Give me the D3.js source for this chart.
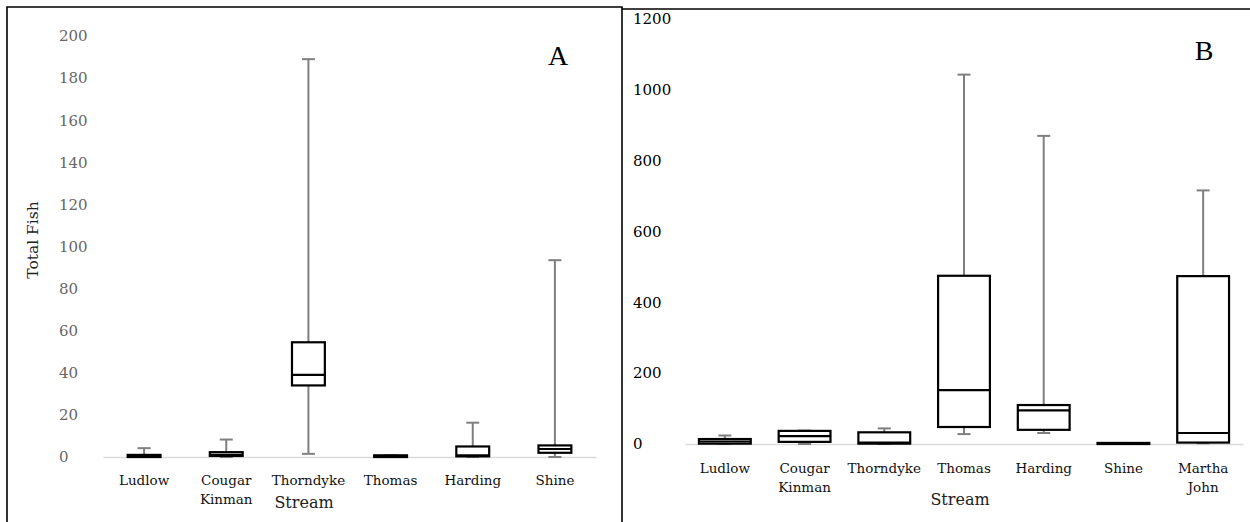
<!DOCTYPE html>
<html>
<head>
<meta charset="utf-8">
<script src="https://cdn.jsdelivr.net/npm/d3@7"></script>
<style>
  html, body { margin: 0; padding: 0; background: #fff; }
  svg { display: block; }
</style>
</head>
<body>
<svg id="chart" width="1250" height="522"></svg>
<script>
// ---- Panel A data ----
const categoriesA = ["Ludlow", "Cougar\nKinman", "Thorndyke", "Thomas", "Harding", "Shine"];
const minA = [0, 0, 1.5, 0, 0, 0];
const q1A  = [0, 0.5, 34, 0, 0.3, 2];
const medA = [0.5, 1, 39, 0.3, 0.8, 3.8];
const q3A  = [1, 2.3, 54.5, 0.8, 5, 5.5];
const maxA = [4.2, 8.3, 189, 0.8, 16.3, 93.5];
const ticksA = [0, 20, 40, 60, 80, 100, 120, 140, 160, 180, 200];

// ---- Panel B data ----
const categoriesB = ["Ludlow", "Cougar\nKinman", "Thorndyke", "Thomas", "Harding", "Shine", "Martha\nJohn"];
const minB = [0, 0, 0, 28, 31, 0, 2];
const q1B  = [1, 6, 1, 48, 40, 0, 4];
const medB = [7, 22, 4, 152, 95, 1, 31];
const q3B  = [14, 37, 33, 475, 110, 3, 474];
const maxB = [24, 38, 44, 1043, 870, 3, 716];
const ticksB = [0, 200, 400, 600, 800, 1000, 1200];

const svg = d3.select("#chart");
const FONT = "DejaVu Serif";

// Panel frames
svg.append("path")
  .attr("d", d3.line()([[7, 522], [7, 7], [622, 7], [622, 522]]))
  .attr("fill", "none").attr("stroke", "#000").attr("stroke-width", 1.6);
svg.append("line")
  .attr("x1", 622).attr("x2", 1250).attr("y1", 9).attr("y2", 9)
  .attr("stroke", "#000").attr("stroke-width", 1.6);

function panel(cfg) {
  const { cats, mins, q1s, meds, q3s, maxs, ticks, xRange, yRange, yMax,
          tickX, tickColor, boxRatio, labelOff, streamPos, letter, letterPos } = cfg;
  const x = d3.scaleBand().domain(cats).range(xRange).paddingInner(0).paddingOuter(0);
  const y = d3.scaleLinear().domain([0, yMax]).range(yRange);

  // y tick labels
  const ya = svg.append("g").attr("transform", `translate(${tickX},0)`)
    .call(d3.axisLeft(y).tickValues(ticks).tickSize(0).tickFormat(d3.format("d")));
  ya.select(".domain").remove();
  ya.selectAll("text")
    .attr("x", 0).attr("text-anchor", "start")
    .attr("font-family", FONT).attr("font-size", 15).attr("fill", tickColor);

  // x axis baseline & labels
  const xa = svg.append("g").attr("transform", `translate(0,${yRange[0]})`)
    .call(d3.axisBottom(x).tickSize(0).tickSizeOuter(0));
  xa.select(".domain").attr("stroke", "#d9d9d9").attr("stroke-width", 1.5);
  xa.selectAll("text").each(function(d) {
    const t = d3.select(this);
    t.text(null).attr("y", labelOff).attr("dy", 0)
      .attr("font-family", FONT).attr("font-size", 13.5).attr("fill", "#111");
    d.split("\n").forEach((s, i) => {
      t.append("tspan").attr("x", 0).attr("dy", i === 0 ? 0 : 19).text(s);
    });
  });

  const bw = x.bandwidth() * boxRatio;
  const capW = 13;
  const g = svg.append("g");
  cats.forEach((c, i) => {
    const cx = x(c) + x.bandwidth() / 2;
    // whisker
    g.append("line").attr("x1", cx).attr("x2", cx)
      .attr("y1", y(maxs[i])).attr("y2", y(mins[i]))
      .attr("stroke", "#7f7f7f").attr("stroke-width", 2);
    [maxs[i], mins[i]].forEach(v => {
      g.append("line").attr("x1", cx - capW / 2).attr("x2", cx + capW / 2)
        .attr("y1", y(v)).attr("y2", y(v))
        .attr("stroke", "#7f7f7f").attr("stroke-width", 2);
    });
    // box
    g.append("rect").attr("x", cx - bw / 2).attr("width", bw)
      .attr("y", y(q3s[i])).attr("height", Math.max(0.5, y(q1s[i]) - y(q3s[i])))
      .attr("fill", "#fff").attr("stroke", "#000").attr("stroke-width", 2.2);
    g.append("line").attr("x1", cx - bw / 2).attr("x2", cx + bw / 2)
      .attr("y1", y(meds[i])).attr("y2", y(meds[i]))
      .attr("stroke", "#000").attr("stroke-width", 2.2);
  });

  svg.append("text").attr("x", streamPos[0]).attr("y", streamPos[1])
    .attr("text-anchor", "middle").attr("font-family", FONT).attr("font-size", 16)
    .attr("fill", "#222").text("Stream");
  svg.append("text").attr("x", letterPos[0]).attr("y", letterPos[1])
    .attr("text-anchor", "middle").attr("font-family", "Liberation Serif").attr("font-size", 28)
    .attr("fill", "#000").text(letter);
}

panel({
  cats: categoriesA, mins: minA, q1s: q1A, meds: medA, q3s: q3A, maxs: maxA,
  ticks: ticksA, xRange: [103, 596], yRange: [457, 36], yMax: 200,
  tickX: 59, tickColor: "#666", boxRatio: 0.40, labelOff: 28,
  streamPos: [304, 508], letter: "A", letterPos: [558, 65]
});
panel({
  cats: categoriesB, mins: minB, q1s: q1B, meds: medB, q3s: q3B, maxs: maxB,
  ticks: ticksB, xRange: [685, 1243], yRange: [444, 19], yMax: 1200,
  tickX: 633, tickColor: "#000", boxRatio: 0.65, labelOff: 29,
  streamPos: [960, 505], letter: "B", letterPos: [1204, 60]
});

// y-axis title (panel A)
svg.append("text")
  .attr("transform", "translate(38,240) rotate(-90)")
  .attr("text-anchor", "middle").attr("font-family", FONT).attr("font-size", 15.5)
  .attr("fill", "#222").text("Total Fish");
</script>
</body>
</html>
